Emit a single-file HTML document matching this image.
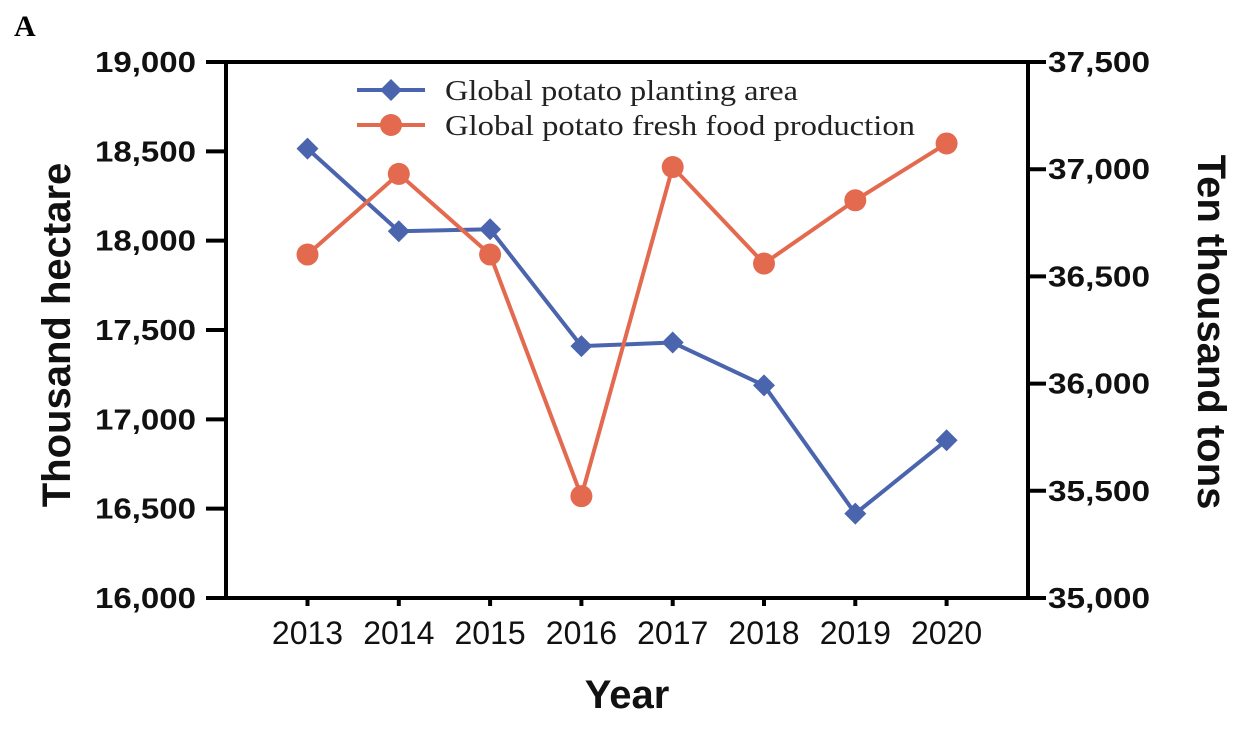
<!DOCTYPE html>
<html><head><meta charset="utf-8"><style>
body{margin:0;background:#fff;width:1252px;height:730px;overflow:hidden}
svg{display:block}
.tk{font:bold 29px "Liberation Sans",sans-serif;fill:#111}
.xt{font:32px "Liberation Sans",sans-serif;fill:#111}
.ttl{font:bold 40px "Liberation Sans",sans-serif;fill:#111}
.lg{font:29px "Liberation Serif",serif;fill:#222}
</style></head><body>
<svg id="chart" width="1252" height="730">
<text x="14" y="36" style="font:bold 30px 'Liberation Serif',serif">A</text>
</svg>
<script>
const years=['2013','2014','2015','2016','2017','2018','2019','2020'];
const area=[18515,18053,18064,17410,17430,17190,16472,16883];
const production=[36602,36978,36602,35475,37010,36560,36855,37120];
const leftTicks=[16000,16500,17000,17500,18000,18500,19000];
const rightTicks=[35000,35500,36000,36500,37000,37500];
const NS='http://www.w3.org/2000/svg';
const svg=document.getElementById('chart');
const L=226,R=1028,T=62,B=598;
const x=i=>307.5+i*91.3;
const yL=v=>B-(v-16000)/3000*(B-T);
const yR=v=>B-(v-35000)/2500*(B-T);
function mk(t,a,p){const e=document.createElementNS(NS,t);for(const k in a)e.setAttribute(k,a[k]);(p||svg).appendChild(e);return e;}
let e=mk('path',{d:`M${L},${T}H${R}V${B}H${L}Z`,fill:'none',stroke:'#000','stroke-width':4});


leftTicks.forEach(v=>{const y=yL(v);
mk('line',{x1:L-20,x2:L,y1:y,y2:y,stroke:'#000','stroke-width':4});
const t=mk('text',{x:L-30,y:y+10,'text-anchor':'end',class:'tk',textLength:101,lengthAdjust:'spacingAndGlyphs'});t.textContent=v.toLocaleString('en-US');

});
rightTicks.forEach(v=>{const y=yR(v);
mk('line',{x1:R,x2:R+18,y1:y,y2:y,stroke:'#000','stroke-width':4});
const t=mk('text',{x:R+20,y:y+10,class:'tk',textLength:102,lengthAdjust:'spacingAndGlyphs'});t.textContent=v.toLocaleString('en-US');

});
years.forEach((yr,i)=>{
mk('line',{x1:x(i),x2:x(i),y1:B,y2:B+8,stroke:'#000','stroke-width':4});
const t=mk('text',{x:x(i),y:B+46,'text-anchor':'middle',class:'xt'});t.textContent=yr;

});
let t=mk('text',{x:627,y:708,'text-anchor':'middle',class:'ttl'});t.textContent='Year';


t=mk('text',{x:0,y:0,'text-anchor':'middle',class:'ttl',transform:'translate(70,335) rotate(-90)'});t.textContent='Thousand hectare';


t=mk('text',{x:0,y:0,'text-anchor':'middle',class:'ttl',transform:'translate(1198,332) rotate(90)'});t.textContent='Ten thousand tons';


const blue='#4a64ad',red='#e36a4f';
e=mk('polyline',{points:area.map((v,i)=>x(i)+','+yL(v)).join(' '),fill:'none',stroke:blue,'stroke-width':4});


area.forEach((v,i)=>{const cx=x(i),cy=yL(v);
const d=mk('path',{d:`M${cx},${cy-11}L${cx+11},${cy}L${cx},${cy+11}L${cx-11},${cy}Z`,fill:blue});

});
e=mk('polyline',{points:production.map((v,i)=>x(i)+','+yR(v)).join(' '),fill:'none',stroke:red,'stroke-width':4});


production.forEach((v,i)=>{const c=mk('circle',{cx:x(i),cy:yR(v),r:11,fill:red});

});
const lg=mk('g',{});


mk('line',{x1:357,x2:425,y1:90,y2:90,stroke:blue,'stroke-width':4},lg);
mk('path',{d:'M391,79L402,90L391,101L380,90Z',fill:blue},lg);
t=mk('text',{x:445,y:100,class:'lg',textLength:353,lengthAdjust:'spacingAndGlyphs'},lg);t.textContent='Global potato planting area';


mk('line',{x1:357,x2:425,y1:125,y2:125,stroke:red,'stroke-width':4},lg);
mk('circle',{cx:391,cy:125,r:11,fill:red},lg);
t=mk('text',{x:445,y:135,class:'lg',textLength:470,lengthAdjust:'spacingAndGlyphs'},lg);t.textContent='Global potato fresh food production';


</script>
</body></html>
